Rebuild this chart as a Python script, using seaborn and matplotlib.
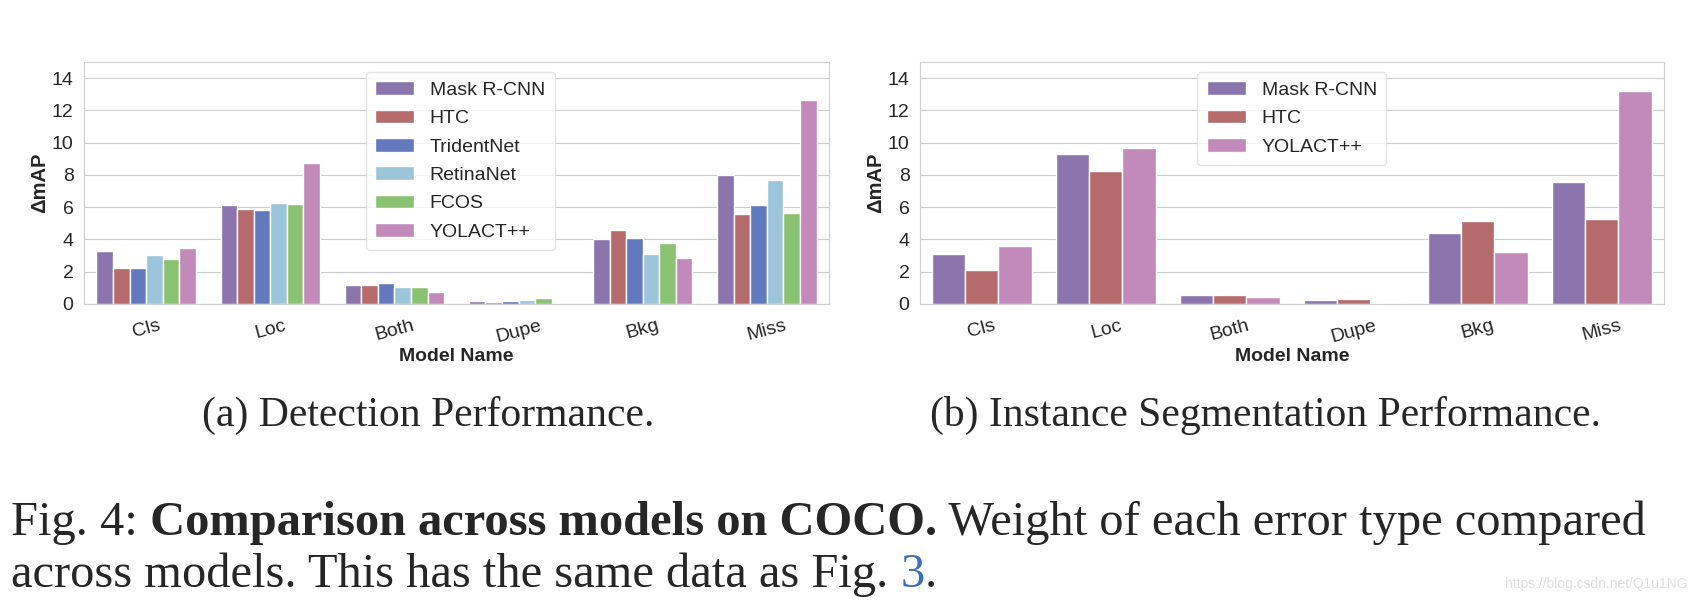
import numpy as np
import pandas as pd
import matplotlib
matplotlib.use("Agg")
import matplotlib.pyplot as plt
import seaborn as sns

# ---- data ----
error_types = ["Cls", "Loc", "Both", "Dupe", "Bkg", "Miss"]

det_models = ["Mask R-CNN", "HTC", "TridentNet", "RetinaNet", "FCOS", "YOLACT++"]
det_mask_rcnn = [3.31, 6.16, 1.16, 0.17, 4.03, 8.02]
det_htc = [2.25, 5.87, 1.16, 0.10, 4.57, 5.58]
det_tridentnet = [2.23, 5.83, 1.30, 0.20, 4.07, 6.12]
det_retinanet = [3.02, 6.24, 1.05, 0.25, 3.08, 7.67]
det_fcos = [2.77, 6.20, 1.05, 0.39, 3.80, 5.67]
det_yolact = [3.47, 8.73, 0.77, 0.02, 2.83, 12.66]

seg_models = ["Mask R-CNN", "HTC", "YOLACT++"]
seg_mask_rcnn = [3.10, 9.30, 0.58, 0.27, 4.43, 7.53]
seg_htc = [2.09, 8.27, 0.56, 0.29, 5.13, 5.27]
seg_yolact = [3.60, 9.68, 0.41, 0.04, 3.20, 13.21]

colors = {
    "Mask R-CNN": "#8c74ac",
    "HTC": "#b56b6b",
    "TridentNet": "#6379be",
    "RetinaNet": "#9dc5da",
    "FCOS": "#8bc172",
    "YOLACT++": "#c28aba",
}

det_df = pd.DataFrame({
    "Model Name": error_types * 6,
    "model": np.repeat(det_models, 6),
    "dAP": det_mask_rcnn + det_htc + det_tridentnet + det_retinanet + det_fcos + det_yolact,
})
seg_df = pd.DataFrame({
    "Model Name": error_types * 3,
    "model": np.repeat(seg_models, 6),
    "dAP": seg_mask_rcnn + seg_htc + seg_yolact,
})

sns.set_style("whitegrid")
plt.rcParams["font.family"] = ["Liberation Sans", "DejaVu Sans"]

fig = plt.figure(figsize=(16.97, 6.03), dpi=100)
ax1 = fig.add_axes([0.0495, 0.4959, 0.439, 0.4013])
ax2 = fig.add_axes([0.5421, 0.4959, 0.4384, 0.4013])

for ax, df, models, lx in [(ax1, det_df, det_models, 0.505), (ax2, seg_df, seg_models, 0.5)]:
    sns.barplot(data=df, x="Model Name", y="dAP", hue="model", hue_order=models,
                order=error_types, palette=colors, saturation=1, edgecolor="white",
                linewidth=1, ax=ax)
    ax.set_ylim(0, 15)
    ax.set_yticks([0, 2, 4, 6, 8, 10, 12, 14])
    ax.set_ylabel("ΔmAP", fontsize=14.5, fontweight="bold", labelpad=2)
    ax.set_xlabel("Model Name", fontsize=14, fontweight="bold", labelpad=2)
    ax.tick_params(axis="y", labelsize=14, pad=4)
    ax.tick_params(axis="x", labelsize=14, rotation=15, pad=6)
    leg = ax.legend(loc="upper center", bbox_to_anchor=(lx, 1.0), fontsize=14,
                    frameon=True, borderpad=0.5, labelspacing=0.55)
    leg.get_frame().set_edgecolor("#dddddd")
    for sp in ax.spines.values():
        sp.set_color("#d0d0d0")

# ---- caption text ----
serif = ["Liberation Serif", "DejaVu Serif"]
fig.text(428 / 1697, 1 - 415 / 603, "(a) Detection Performance.", family=serif,
         fontsize=30, ha="center", va="center")
fig.text(1265 / 1697, 1 - 415 / 603, "(b) Instance Segmentation Performance.",
         family=serif, fontsize=30, ha="center", va="center")

fig.canvas.draw()
r = fig.canvas.get_renderer()
W = fig.bbox.width
fs = 34.9
x = 11 / 1697
y1 = 1 - 523 / 603
for txt, wt in [("Fig. 4:", "normal"), (" Comparison across models on COCO.", "bold"),
                (" Weight of each error type compared", "normal")]:
    t = fig.text(x, y1, txt, family=serif, fontsize=fs, fontweight=wt, va="center")
    x = t.get_window_extent(r).x1 / W

y2 = 1 - 575 / 603
t = fig.text(11 / 1697, y2, "across models. This has the same data as Fig. ", family=serif,
             fontsize=fs, va="center")
x = t.get_window_extent(r).x1 / W
t = fig.text(x, y2, "3", family=serif, fontsize=fs, color="#3d6fb6", va="center")
x = t.get_window_extent(r).x1 / W
fig.text(x, y2, ".", family=serif, fontsize=fs, va="center")

fig.text(1688 / 1697, 1 - 584 / 603, "https://blog.csdn.net/Q1u1NG", fontsize=10,
         color="#e0e0e0", ha="right", va="center")

fig.savefig("out.png", dpi=100)
